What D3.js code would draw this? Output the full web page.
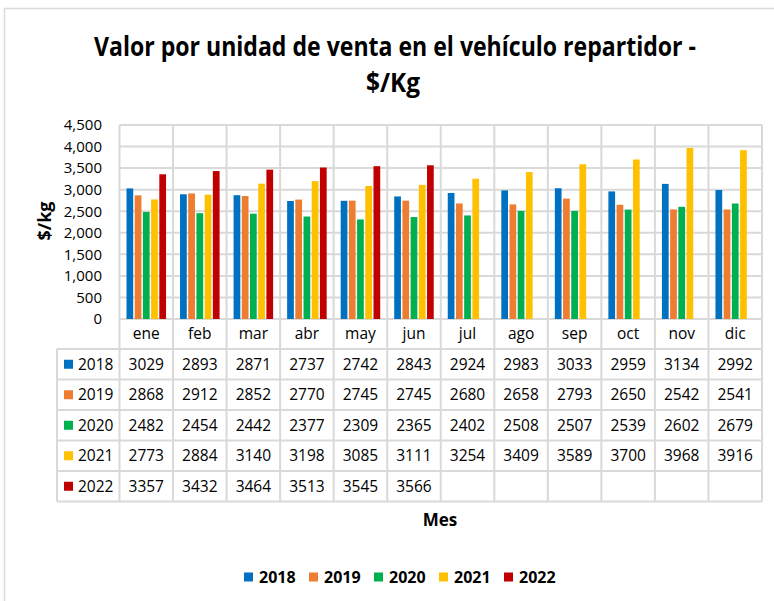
<!DOCTYPE html>
<html>
<head>
<meta charset="utf-8">
<script src="https://cdn.jsdelivr.net/npm/d3@7/dist/d3.min.js"></script>
<style>
  body { margin: 0; background: #fff; }
  text { font-family: "Open Sans", "Liberation Sans", sans-serif; fill: #000; }
</style>
</head>
<body>
<div id="chart"></div>
<script>
// Data
var months = ['ene', 'feb', 'mar', 'abr', 'may', 'jun', 'jul', 'ago', 'sep', 'oct', 'nov', 'dic'];
var years = ['2018', '2019', '2020', '2021', '2022'];
var v2018 = [3029, 2893, 2871, 2737, 2742, 2843, 2924, 2983, 3033, 2959, 3134, 2992];
var v2019 = [2868, 2912, 2852, 2770, 2745, 2745, 2680, 2658, 2793, 2650, 2542, 2541];
var v2020 = [2482, 2454, 2442, 2377, 2309, 2365, 2402, 2508, 2507, 2539, 2602, 2679];
var v2021 = [2773, 2884, 3140, 3198, 3085, 3111, 3254, 3409, 3589, 3700, 3968, 3916];
var v2022 = [3357, 3432, 3464, 3513, 3545, 3566];
var yTicks = [0, 500, 1000, 1500, 2000, 2500, 3000, 3500, 4000, 4500];
var colors = ['#0070C0', '#ED7D31', '#00B050', '#FFC000', '#C00000'];

(function(){
  var series = [v2018, v2019, v2020, v2021, v2022];
  var grid = '#d9d9d9';

  var svg = d3.select('#chart').append('svg')
      .attr('width', 774)
      .attr('height', 601);

  // chart frame (only top and left show in the picture)
  svg.append('path')
      .attr('d', 'M4.5,601 V8.5 H774')
      .attr('fill', 'none')
      .attr('stroke', grid)
      .attr('stroke-width', 1.5);

  var plotLeft = 119.5, plotRight = 762, plotTop = 125, plotBottom = 319;
  var tableLeft = 57, rowH = 30.5, headH = 30;

  var x = d3.scaleBand().domain(months).range([plotLeft, plotRight]);
  var xi = d3.scaleBand().domain(years).range([7, x.bandwidth() - 7]).paddingInner(0.18);
  var y = d3.scaleLinear().domain([0, 4500]).range([plotBottom, plotTop]);
  var color = d3.scaleOrdinal().domain(years).range(colors);

  // title
  var title = svg.append('g').style('font-weight', 'bold');
  title.append('text')
      .attr('x', 395).attr('y', 56)
      .attr('text-anchor', 'middle')
      .attr('textLength', 602)
      .attr('lengthAdjust', 'spacingAndGlyphs')
      .style('font-size', '26px')
      .text('Valor por unidad de venta en el vehículo repartidor -');
  title.append('text')
      .attr('x', 393).attr('y', 92)
      .attr('text-anchor', 'middle')
      .attr('textLength', 54)
      .attr('lengthAdjust', 'spacingAndGlyphs')
      .style('font-size', '26px')
      .text('$/Kg');

  // horizontal grid
  svg.append('g').selectAll('line')
      .data(yTicks)
      .join('line')
      .attr('x1', plotLeft).attr('x2', plotRight)
      .attr('y1', function(d) { return y(d); })
      .attr('y2', function(d) { return y(d); })
      .attr('stroke', grid)
      .attr('stroke-width', 2);

  // vertical lines: plot + header row + table
  var tableBottom = plotBottom + headH + rowH * years.length;
  var vx = months.map(function(m) { return x(m); }).concat([plotRight]);
  svg.append('g').selectAll('line')
      .data(vx)
      .join('line')
      .attr('x1', function(d) { return d; })
      .attr('x2', function(d) { return d; })
      .attr('y1', plotTop).attr('y2', tableBottom)
      .attr('stroke', grid)
      .attr('stroke-width', 2);

  // table rows
  var rowLines = d3.range(years.length + 1).map(function(i) { return plotBottom + headH + i * rowH; });
  svg.append('g').selectAll('line')
      .data(rowLines)
      .join('line')
      .attr('x1', tableLeft).attr('x2', plotRight)
      .attr('y1', function(d) { return d; })
      .attr('y2', function(d) { return d; })
      .attr('stroke', grid)
      .attr('stroke-width', 2);
  svg.append('line')
      .attr('x1', tableLeft).attr('x2', tableLeft)
      .attr('y1', plotBottom + headH).attr('y2', tableBottom)
      .attr('stroke', grid)
      .attr('stroke-width', 2);

  // bars
  var groups = svg.append('g').selectAll('g')
      .data(years)
      .join('g')
      .attr('fill', function(d) { return color(d); });

  groups.selectAll('rect')
      .data(function(yr, i) {
        return series[i].map(function(v, j) { return {year: yr, month: months[j], value: v}; });
      })
      .join('rect')
      .attr('x', function(d) { return x(d.month) + xi(d.year); })
      .attr('width', xi.bandwidth())
      .attr('y', function(d) { return y(d.value); })
      .attr('height', function(d) { return y(0) - y(d.value); });

  // y axis labels
  var yAxis = svg.append('g')
      .attr('transform', 'translate(102,0)')
      .call(d3.axisLeft(y).tickValues(yTicks).tickSize(0).tickPadding(0).tickFormat(d3.format(',')));
  yAxis.select('.domain').remove();
  yAxis.selectAll('text')
      .style('font-size', '15px')
      .style('font-family', '"Open Sans", sans-serif')
      .attr('fill', '#000');

  svg.append('text')
      .attr('transform', 'translate(51,221) rotate(-90)')
      .attr('text-anchor', 'middle')
      .style('font-size', '18px')
      .style('font-weight', 'bold')
      .text('$/kg');

  // month header
  var xAxis = svg.append('g')
      .attr('transform', 'translate(0,' + (plotBottom + 20) + ')')
      .call(d3.axisBottom(x).tickSize(0).tickPadding(0));
  xAxis.select('.domain').remove();
  xAxis.selectAll('text')
      .attr('dy', 0)
      .attr('y', 0)
      .style('font-size', '15.5px')
      .style('font-family', '"Open Sans", sans-serif')
      .attr('fill', '#000');

  // table body
  years.forEach(function(yr, i) {
    var cy = plotBottom + headH + i * rowH + rowH / 2;
    var row = svg.append('g');
    row.append('rect')
        .attr('x', 64).attr('y', cy - 4.5)
        .attr('width', 9).attr('height', 9)
        .attr('fill', color(yr));
    row.append('text')
        .attr('x', 78).attr('y', cy + 5.5)
        .style('font-size', '15.5px')
        .text(yr);
    row.selectAll('text.val')
        .data(series[i])
        .join('text')
        .attr('class', 'val')
        .attr('x', function(d, j) { return x(months[j]) + x.bandwidth() / 2; })
        .attr('y', cy + 5.5)
        .attr('text-anchor', 'middle')
        .style('font-size', '15.5px')
        .text(function(d) { return d; });
  });

  // axis title
  svg.append('text')
      .attr('x', 440).attr('y', 526)
      .attr('text-anchor', 'middle')
      .style('font-size', '17px')
      .style('font-weight', 'bold')
      .text('Mes');

  // legend
  var legend = svg.append('g').selectAll('g')
      .data(years)
      .join('g')
      .attr('transform', function(d, i) { return 'translate(' + (244 + i * 65) + ',577)'; });
  legend.append('rect')
      .attr('x', 0).attr('y', -4.5)
      .attr('width', 9).attr('height', 9)
      .attr('fill', function(d) { return color(d); });
  legend.append('text')
      .attr('x', 15).attr('y', 6)
      .style('font-size', '16px')
      .style('font-weight', 'bold')
      .text(function(d) { return d; });
})();
</script>
</body>
</html>
